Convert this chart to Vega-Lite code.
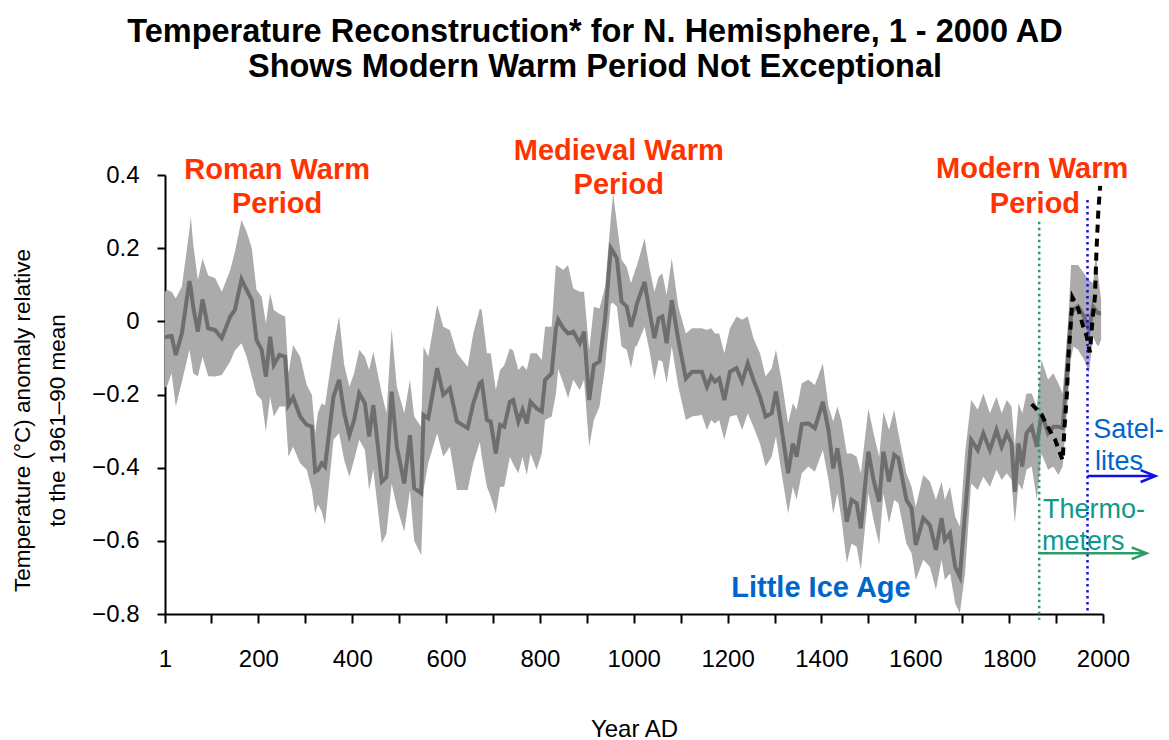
{
  "$schema": "https://vega.github.io/schema/vega-lite/v6.json",
  "autosize": {"type": "none"},
  "padding": {"left": 165, "top": 175, "right": 66, "bottom": 126},
  "width": 938,
  "height": 439,
  "background": "white",
  "title": {
    "text": ["Temperature Reconstruction* for N. Hemisphere, 1 - 2000 AD", "Shows Modern Warm Period Not Exceptional"],
    "font": "Liberation Sans",
    "fontSize": 32.5,
    "fontWeight": "bold",
    "lineHeight": 35,
    "color": "black",
    "anchor": "middle",
    "frame": "group",
    "dx": -39,
    "offset": 53
  },
  "config": {
    "view": {"stroke": null},
    "axis": {"grid": false}
  },
  "datasets": {
    "recon": [
      {"year":1,"temp":-0.045,"lo":-0.18,"hi":0.08},{"year":5,"temp":-0.042,"lo":-0.179,"hi":0.086},{"year":15,"temp":-0.04,"lo":-0.142,"hi":0.081},{"year":24,"temp":-0.092,"lo":-0.233,"hi":0.063},{"year":37,"temp":-0.033,"lo":-0.165,"hi":0.095},{"year":53,"temp":0.11,"lo":-0.078,"hi":0.25},{"year":56,"temp":0.09,"lo":-0.1,"hi":0.286},{"year":61,"temp":0.04,"lo":-0.142,"hi":0.213},{"year":71,"temp":-0.028,"lo":-0.151,"hi":0.113},{"year":81,"temp":0.06,"lo":-0.097,"hi":0.172},{"year":93,"temp":-0.019,"lo":-0.15,"hi":0.125},{"year":108,"temp":-0.024,"lo":-0.151,"hi":0.118},{"year":122,"temp":-0.046,"lo":-0.147,"hi":0.081},{"year":140,"temp":0.013,"lo":-0.11,"hi":0.14},{"year":150,"temp":0.031,"lo":-0.08,"hi":0.19},{"year":164,"temp":0.115,"lo":-0.06,"hi":0.277},{"year":175,"temp":0.086,"lo":-0.097,"hi":0.245},{"year":186,"temp":0.058,"lo":-0.151,"hi":0.2},{"year":196,"temp":-0.051,"lo":-0.2,"hi":0.086},{"year":207,"temp":-0.078,"lo":-0.215,"hi":0.067},{"year":216,"temp":-0.151,"lo":-0.302,"hi":-0.005},{"year":225,"temp":-0.042,"lo":-0.206,"hi":0.077},{"year":233,"temp":-0.119,"lo":-0.26,"hi":0.031},{"year":245,"temp":-0.092,"lo":-0.233,"hi":0.02},{"year":257,"temp":-0.097,"lo":-0.233,"hi":0.013},{"year":264,"temp":-0.229,"lo":-0.37,"hi":-0.142},{"year":274,"temp":-0.208,"lo":-0.343,"hi":-0.065},{"year":289,"temp":-0.26,"lo":-0.388,"hi":-0.097},{"year":303,"temp":-0.283,"lo":-0.406,"hi":-0.174},{"year":314,"temp":-0.288,"lo":-0.461,"hi":-0.201},{"year":321,"temp":-0.411,"lo":-0.525,"hi":-0.306},{"year":327,"temp":-0.406,"lo":-0.5,"hi":-0.25},{"year":335,"temp":-0.388,"lo":-0.52,"hi":-0.224},{"year":342,"temp":-0.397,"lo":-0.557,"hi":-0.23},{"year":360,"temp":-0.206,"lo":-0.324,"hi":-0.07},{"year":372,"temp":-0.16,"lo":-0.306,"hi":0.013},{"year":383,"temp":-0.251,"lo":-0.38,"hi":-0.12},{"year":394,"temp":-0.311,"lo":-0.425,"hi":-0.179},{"year":404,"temp":-0.27,"lo":-0.379,"hi":-0.142},{"year":415,"temp":-0.197,"lo":-0.324,"hi":-0.078},{"year":427,"temp":-0.224,"lo":-0.352,"hi":-0.097},{"year":436,"temp":-0.315,"lo":-0.461,"hi":-0.133},{"year":445,"temp":-0.229,"lo":-0.406,"hi":-0.083},{"year":463,"temp":-0.438,"lo":-0.607,"hi":-0.197},{"year":473,"temp":-0.425,"lo":-0.58,"hi":-0.251},{"year":484,"temp":-0.192,"lo":-0.443,"hi":-0.019},{"year":495,"temp":-0.343,"lo":-0.507,"hi":-0.179},{"year":511,"temp":-0.443,"lo":-0.575,"hi":-0.251},{"year":523,"temp":-0.311,"lo":-0.461,"hi":-0.16},{"year":532,"temp":-0.456,"lo":-0.6,"hi":-0.26},{"year":547,"temp":-0.47,"lo":-0.639,"hi":-0.288},{"year":552,"temp":-0.256,"lo":-0.461,"hi":-0.069},{"year":562,"temp":-0.265,"lo":-0.388,"hi":-0.097},{"year":581,"temp":-0.128,"lo":-0.306,"hi":0.045},{"year":594,"temp":-0.201,"lo":-0.37,"hi":-0.015},{"year":608,"temp":-0.183,"lo":-0.343,"hi":-0.024},{"year":623,"temp":-0.274,"lo":-0.461,"hi":-0.087},{"year":646,"temp":-0.292,"lo":-0.461,"hi":-0.124},{"year":658,"temp":-0.224,"lo":-0.388,"hi":-0.033},{"year":672,"temp":-0.169,"lo":-0.33,"hi":0.035},{"year":676,"temp":-0.165,"lo":-0.37,"hi":0.03},{"year":687,"temp":-0.27,"lo":-0.452,"hi":-0.087},{"year":695,"temp":-0.274,"lo":-0.479,"hi":-0.087},{"year":706,"temp":-0.361,"lo":-0.525,"hi":-0.188},{"year":715,"temp":-0.283,"lo":-0.452,"hi":-0.133},{"year":724,"temp":-0.288,"lo":-0.452,"hi":-0.12},{"year":736,"temp":-0.22,"lo":-0.37,"hi":-0.074},{"year":743,"temp":-0.215,"lo":-0.39,"hi":-0.08},{"year":754,"temp":-0.274,"lo":-0.415,"hi":-0.133},{"year":763,"temp":-0.242,"lo":-0.37,"hi":-0.12},{"year":772,"temp":-0.279,"lo":-0.42,"hi":-0.133},{"year":780,"temp":-0.22,"lo":-0.361,"hi":-0.087},{"year":793,"temp":-0.238,"lo":-0.406,"hi":-0.087},{"year":804,"temp":-0.247,"lo":-0.361,"hi":-0.106},{"year":811,"temp":-0.16,"lo":-0.27,"hi":-0.015},{"year":825,"temp":-0.142,"lo":-0.26,"hi":-0.015},{"year":834,"temp":-0.02,"lo":-0.2,"hi":0.154},{"year":839,"temp":0.004,"lo":-0.13,"hi":0.15},{"year":850,"temp":-0.019,"lo":-0.17,"hi":0.14},{"year":860,"temp":-0.033,"lo":-0.21,"hi":0.154},{"year":871,"temp":-0.028,"lo":-0.16,"hi":0.09},{"year":885,"temp":-0.06,"lo":-0.188,"hi":0.081},{"year":894,"temp":-0.028,"lo":-0.16,"hi":0.081},{"year":905,"temp":-0.215,"lo":-0.343,"hi":-0.078},{"year":915,"temp":-0.119,"lo":-0.27,"hi":0.04},{"year":927,"temp":-0.11,"lo":-0.233,"hi":0.035},{"year":939,"temp":0.008,"lo":-0.124,"hi":0.095},{"year":951,"temp":0.2,"lo":0.049,"hi":0.28},{"year":956,"temp":0.19,"lo":0.05,"hi":0.35},{"year":964,"temp":0.172,"lo":0.04,"hi":0.268},{"year":974,"temp":0.054,"lo":-0.069,"hi":0.168},{"year":985,"temp":0.04,"lo":-0.078,"hi":0.149},{"year":994,"temp":-0.015,"lo":-0.128,"hi":0.104},{"year":1003,"temp":0.026,"lo":-0.069,"hi":0.14},{"year":1006,"temp":0.045,"lo":-0.069,"hi":0.149},{"year":1023,"temp":0.108,"lo":-0.015,"hi":0.227},{"year":1033,"temp":0.031,"lo":-0.078,"hi":0.149},{"year":1044,"temp":-0.046,"lo":-0.16,"hi":0.081},{"year":1053,"temp":0.008,"lo":-0.106,"hi":0.122},{"year":1061,"temp":0.013,"lo":-0.11,"hi":0.131},{"year":1070,"temp":-0.06,"lo":-0.169,"hi":0.072},{"year":1081,"temp":0.058,"lo":-0.069,"hi":0.172},{"year":1095,"temp":-0.051,"lo":-0.179,"hi":0.04},{"year":1111,"temp":-0.156,"lo":-0.27,"hi":-0.033},{"year":1124,"temp":-0.138,"lo":-0.26,"hi":-0.019},{"year":1145,"temp":-0.138,"lo":-0.256,"hi":-0.019},{"year":1156,"temp":-0.179,"lo":-0.297,"hi":-0.024},{"year":1165,"temp":-0.151,"lo":-0.27,"hi":-0.019},{"year":1173,"temp":-0.165,"lo":-0.279,"hi":-0.033},{"year":1182,"temp":-0.156,"lo":-0.27,"hi":-0.033},{"year":1193,"temp":-0.215,"lo":-0.324,"hi":-0.087},{"year":1205,"temp":-0.138,"lo":-0.26,"hi":-0.019},{"year":1219,"temp":-0.128,"lo":-0.256,"hi":0.013},{"year":1231,"temp":-0.165,"lo":-0.297,"hi":0.004},{"year":1243,"temp":-0.115,"lo":-0.251,"hi":0.013},{"year":1255,"temp":-0.16,"lo":-0.288,"hi":-0.046},{"year":1269,"temp":-0.206,"lo":-0.334,"hi":-0.087},{"year":1281,"temp":-0.26,"lo":-0.397,"hi":-0.151},{"year":1294,"temp":-0.251,"lo":-0.37,"hi":-0.128},{"year":1303,"temp":-0.192,"lo":-0.315,"hi":-0.078},{"year":1315,"temp":-0.292,"lo":-0.415,"hi":-0.16},{"year":1329,"temp":-0.415,"lo":-0.525,"hi":-0.279},{"year":1339,"temp":-0.334,"lo":-0.452,"hi":-0.224},{"year":1347,"temp":-0.37,"lo":-0.488,"hi":-0.242},{"year":1358,"temp":-0.281,"lo":-0.415,"hi":-0.169},{"year":1372,"temp":-0.279,"lo":-0.397,"hi":-0.16},{"year":1386,"temp":-0.292,"lo":-0.411,"hi":-0.174},{"year":1403,"temp":-0.22,"lo":-0.352,"hi":-0.115},{"year":1415,"temp":-0.297,"lo":-0.434,"hi":-0.233},{"year":1425,"temp":-0.402,"lo":-0.525,"hi":-0.274},{"year":1434,"temp":-0.347,"lo":-0.47,"hi":-0.233},{"year":1443,"temp":-0.425,"lo":-0.543,"hi":-0.274},{"year":1454,"temp":-0.548,"lo":-0.661,"hi":-0.361},{"year":1464,"temp":-0.488,"lo":-0.607,"hi":-0.361},{"year":1475,"temp":-0.497,"lo":-0.616,"hi":-0.37},{"year":1484,"temp":-0.566,"lo":-0.68,"hi":-0.415},{"year":1500,"temp":-0.356,"lo":-0.47,"hi":-0.238},{"year":1511,"temp":-0.434,"lo":-0.543,"hi":-0.306},{"year":1523,"temp":-0.493,"lo":-0.611,"hi":-0.37},{"year":1532,"temp":-0.356,"lo":-0.47,"hi":-0.247},{"year":1544,"temp":-0.438,"lo":-0.552,"hi":-0.297},{"year":1555,"temp":-0.365,"lo":-0.488,"hi":-0.242},{"year":1564,"temp":-0.374,"lo":-0.497,"hi":-0.306},{"year":1581,"temp":-0.488,"lo":-0.607,"hi":-0.415},{"year":1592,"temp":-0.511,"lo":-0.634,"hi":-0.452},{"year":1601,"temp":-0.611,"lo":-0.707,"hi":-0.507},{"year":1617,"temp":-0.538,"lo":-0.652,"hi":-0.42},{"year":1631,"temp":-0.557,"lo":-0.671,"hi":-0.438},{"year":1644,"temp":-0.625,"lo":-0.734,"hi":-0.488},{"year":1656,"temp":-0.538,"lo":-0.652,"hi":-0.438},{"year":1663,"temp":-0.598,"lo":-0.707,"hi":-0.488},{"year":1674,"temp":-0.579,"lo":-0.689,"hi":-0.452},{"year":1685,"temp":-0.671,"lo":-0.771,"hi":-0.534},{"year":1695,"temp":-0.698,"lo":-0.798,"hi":-0.561},{"year":1706,"temp":-0.525,"lo":-0.689,"hi":-0.361},{"year":1719,"temp":-0.324,"lo":-0.443,"hi":-0.215},{"year":1733,"temp":-0.352,"lo":-0.461,"hi":-0.242},{"year":1745,"temp":-0.306,"lo":-0.425,"hi":-0.197},{"year":1759,"temp":-0.352,"lo":-0.452,"hi":-0.251},{"year":1773,"temp":-0.297,"lo":-0.406,"hi":-0.206},{"year":1784,"temp":-0.343,"lo":-0.434,"hi":-0.251},{"year":1795,"temp":-0.306,"lo":-0.415,"hi":-0.215},{"year":1805,"temp":-0.334,"lo":-0.434,"hi":-0.233},{"year":1812,"temp":-0.466,"lo":-0.552,"hi":-0.343},{"year":1820,"temp":-0.334,"lo":-0.443,"hi":-0.224},{"year":1828,"temp":-0.397,"lo":-0.461,"hi":-0.251},{"year":1837,"temp":-0.306,"lo":-0.406,"hi":-0.197},{"year":1848,"temp":-0.288,"lo":-0.397,"hi":-0.197},{"year":1859,"temp":-0.343,"lo":-0.488,"hi":-0.233},{"year":1869,"temp":-0.251,"lo":-0.361,"hi":-0.106},{"year":1883,"temp":-0.306,"lo":-0.406,"hi":-0.16},{"year":1894,"temp":-0.288,"lo":-0.397,"hi":-0.142},{"year":1905,"temp":-0.288,"lo":-0.42,"hi":-0.17},{"year":1914,"temp":-0.292,"lo":-0.397,"hi":-0.197},{"year":1926,"temp":-0.097,"lo":-0.197,"hi":0.004},{"year":1932,"temp":0.02,"lo":-0.1,"hi":0.154},{"year":1937,"temp":0.031,"lo":-0.069,"hi":0.154},{"year":1947,"temp":0.04,"lo":-0.078,"hi":0.154},{"year":1960,"temp":0.013,"lo":-0.106,"hi":0.13},{"year":1970,"temp":-0.024,"lo":-0.142,"hi":0.113},{"year":1979,"temp":0.04,"lo":-0.042,"hi":0.104},{"year":1985,"temp":0.03,"lo":-0.06,"hi":0.19},{"year":1990,"temp":0.022,"lo":-0.069,"hi":0.12},{"year":1996,"temp":0.022,"lo":-0.051,"hi":0.058}
    ],
    "instr": [
      {"year":1848,"temp":-0.226},{"year":1869,"temp":-0.255},{"year":1883,"temp":-0.29},{"year":1898,"temp":-0.324},{"year":1914,"temp":-0.38},{"year":1918,"temp":-0.29},{"year":1923,"temp":-0.2},{"year":1926,"temp":-0.1},{"year":1932,"temp":0.004},{"year":1935,"temp":0.065},{"year":1947,"temp":0.035},{"year":1958,"temp":-0.015},{"year":1965,"temp":-0.04},{"year":1972,"temp":-0.085},{"year":1977,"temp":-0.005},{"year":1983,"temp":0.07},{"year":1986,"temp":0.19},{"year":1990,"temp":0.3},{"year":1994,"temp":0.37}
    ],
    "ann": [
      {"label":"Roman Warm","year":240,"val":0.414,"grp":"warm"},
      {"label":"Period","year":240,"val":0.321,"grp":"warm"},
      {"label":"Medieval Warm","year":968,"val":0.466,"grp":"warm"},
      {"label":"Period","year":968,"val":0.373,"grp":"warm"},
      {"label":"Modern Warm","year":1849,"val":0.416,"grp":"warm"},
      {"label":"Period","year":1855,"val":0.321,"grp":"warm"},
      {"label":"Little Ice Age","year":1399,"val":-0.729,"grp":"ice"},
      {"label":"Satel-","year":1979,"val":-0.297,"grp":"sat"},
      {"label":"lites","year":1983,"val":-0.385,"grp":"sat"},
      {"label":"Thermo-","year":1872,"val":-0.516,"grp":"therm"},
      {"label":"meters","year":1870,"val":-0.604,"grp":"therm"}
    ],
    "vlines": [
      {"year":1864,"top":0.272,"bottom":-0.816,"grp":"therm"},
      {"year":1967,"top":0.332,"bottom":-0.8,"grp":"sat"}
    ],
    "arrows": [
      {"start":1864,"end":2086,"head":2077,"val":-0.634,"grp":"therm"},
      {"start":1967,"end":2105,"head":2096,"val":-0.423,"grp":"sat"}
    ]
  },
  "layer": [
    {
      "data": {"name": "recon"},
      "mark": {"type": "area", "color": "#ABABAB", "opacity": 1},
      "encoding": {
        "x": {"field": "year", "type": "quantitative", "scale": {"domain": [1, 2000], "nice": false, "zero": false},
          "axis": {
            "values": [1,100,200,300,400,500,600,700,800,900,1000,1100,1200,1300,1400,1500,1600,1700,1800,1900,2000],
            "labelExpr": "datum.value == 1 || datum.value % 200 == 0 ? format(datum.value, 'd') : ''",
            "domainColor": "black", "domainWidth": 2, "tickColor": "black", "tickWidth": 2, "tickSize": 9,
            "labelFont": "Liberation Sans", "labelFontSize": 24, "labelColor": "black", "labelPadding": 24,
            "labelFlush": false, "labelOverlap": false,
            "title": "Year AD", "titleFont": "Liberation Sans", "titleFontSize": 24, "titleFontWeight": "normal", "titleColor": "black", "titlePadding": 46
          }},
        "y": {"field": "hi", "type": "quantitative", "scale": {"domain": [-0.8, 0.4], "nice": false, "zero": false},
          "axis": {
            "values": [-0.8,-0.6,-0.4,-0.2,0,0.2,0.4],
            "labelExpr": "datum.value == 0 ? '0' : replace(format(datum.value, '.1f'), '-', '\u2212')",
            "domainColor": "black", "domainWidth": 2, "tickColor": "black", "tickWidth": 2, "tickSize": 8,
            "labelFont": "Liberation Sans", "labelFontSize": 24, "labelColor": "black", "labelPadding": 18,
            "labelFlush": false, "labelOverlap": false,
            "title": ["Temperature (\u00b0C) anomaly relative", "to the 1961\u201390 mean"],
            "titleFont": "Liberation Sans", "titleFontSize": 22.5, "titleFontWeight": "normal", "titleColor": "black",
            "titleLineHeight": 35, "titleBaseline": "middle", "titleAlign": "center", "titleX": -143, "titleY": 245
          }},
        "y2": {"field": "lo"}
      }
    },
    {
      "data": {"name": "recon"},
      "mark": {"type": "line", "color": "#6E6E6E", "strokeWidth": 4, "strokeJoin": "miter"},
      "encoding": {
        "x": {"field": "year", "type": "quantitative"},
        "y": {"field": "temp", "type": "quantitative"}
      }
    },
    {
      "data": {"name": "vlines"},
      "mark": {"type": "rule", "strokeWidth": 2.5, "strokeDash": [2.5, 3.5]},
      "encoding": {
        "x": {"field": "year", "type": "quantitative"},
        "y": {"field": "top", "type": "quantitative"},
        "y2": {"field": "bottom"},
        "color": {"field": "grp", "type": "nominal", "scale": {"domain": ["therm", "sat"], "range": ["#2E9A66", "#1010E0"]}, "legend": null}
      }
    },
    {
      "data": {"name": "instr"},
      "mark": {"type": "line", "color": "black", "strokeWidth": 4, "strokeDash": [8, 6]},
      "encoding": {
        "x": {"field": "year", "type": "quantitative"},
        "y": {"field": "temp", "type": "quantitative"}
      }
    },
    {
      "data": {"name": "arrows"},
      "mark": {"type": "rule", "strokeWidth": 2.5},
      "encoding": {
        "x": {"field": "start", "type": "quantitative"},
        "x2": {"field": "end"},
        "y": {"field": "val", "type": "quantitative"},
        "color": {"field": "grp", "type": "nominal", "scale": {"domain": ["therm", "sat"], "range": ["#2E9A66", "#3B6FF0"]}, "legend": null}
      }
    },
    {
      "data": {"name": "arrows"},
      "mark": {"type": "point", "shape": "M -1 -0.8 L 1 0 L -1 0.8", "filled": false, "strokeWidth": 2.5, "size": 220, "opacity": 1},
      "encoding": {
        "x": {"field": "head", "type": "quantitative"},
        "y": {"field": "val", "type": "quantitative"},
        "color": {"field": "grp", "type": "nominal", "scale": {"domain": ["therm", "sat"], "range": ["#2E9A66", "#3B6FF0"]}, "legend": null}
      }
    },
    {
      "data": {"name": "ann"},
      "transform": [{"filter": "datum.grp == 'warm'"}],
      "mark": {"type": "text", "font": "Liberation Sans", "fontWeight": "bold", "fontSize": 29, "color": "#FF3300", "align": "center", "baseline": "middle"},
      "encoding": {
        "x": {"field": "year", "type": "quantitative"},
        "y": {"field": "val", "type": "quantitative"},
        "text": {"field": "label"}
      }
    },
    {
      "data": {"name": "ann"},
      "transform": [{"filter": "datum.grp == 'ice'"}],
      "mark": {"type": "text", "font": "Liberation Sans", "fontWeight": "bold", "fontSize": 29, "color": "#0066CC", "align": "center", "baseline": "middle"},
      "encoding": {
        "x": {"field": "year", "type": "quantitative"},
        "y": {"field": "val", "type": "quantitative"},
        "text": {"field": "label"}
      }
    },
    {
      "data": {"name": "ann"},
      "transform": [{"filter": "datum.grp == 'sat'"}],
      "mark": {"type": "text", "font": "Liberation Sans", "fontSize": 27, "color": "#0066CC", "align": "left", "baseline": "middle"},
      "encoding": {
        "x": {"field": "year", "type": "quantitative"},
        "y": {"field": "val", "type": "quantitative"},
        "text": {"field": "label"}
      }
    },
    {
      "data": {"name": "ann"},
      "transform": [{"filter": "datum.grp == 'therm'"}],
      "mark": {"type": "text", "font": "Liberation Sans", "fontSize": 27, "color": "#0E9988", "align": "left", "baseline": "middle"},
      "encoding": {
        "x": {"field": "year", "type": "quantitative"},
        "y": {"field": "val", "type": "quantitative"},
        "text": {"field": "label"}
      }
    }
  ]
}
